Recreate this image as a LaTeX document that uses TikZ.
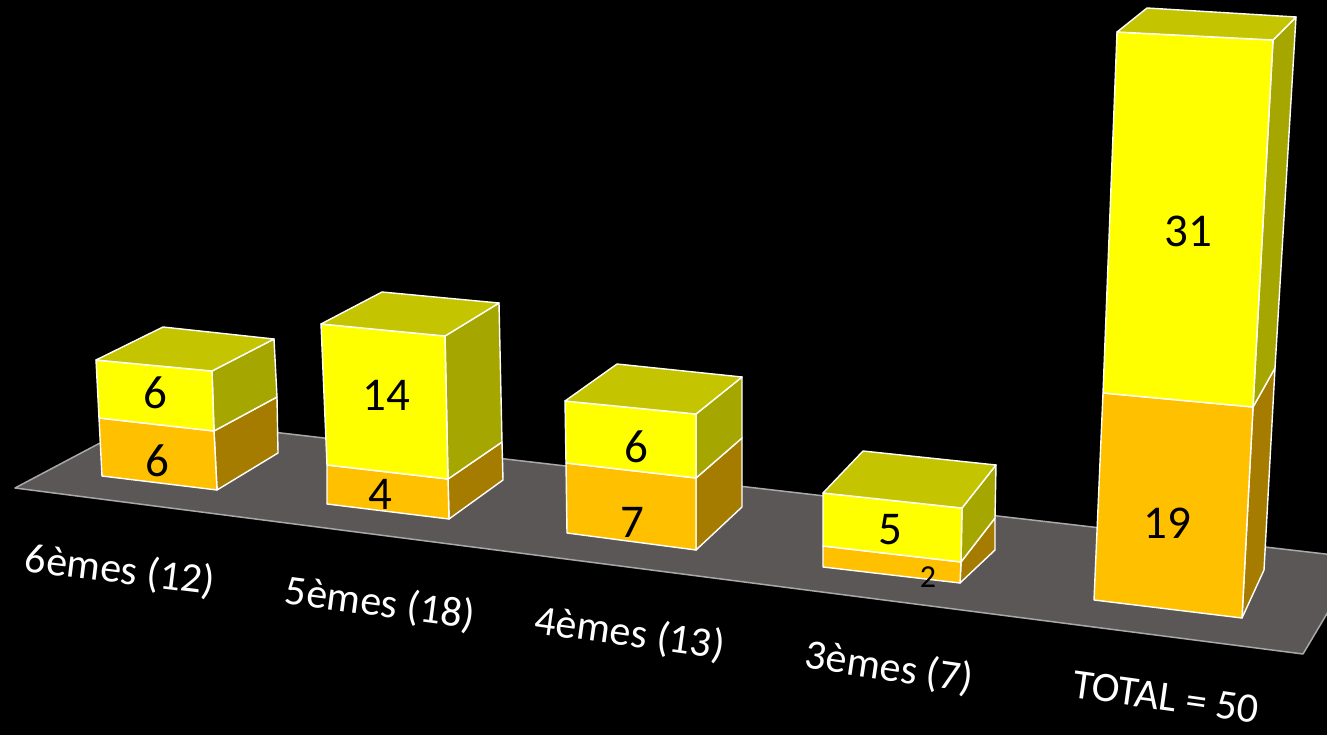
\documentclass[tikz,border=0pt]{standalone}
\usepackage{fontspec}
\setmainfont{Carlito}
\definecolor{ytop}{HTML}{C4C400}
\definecolor{yfront}{HTML}{FFFF00}
\definecolor{yside}{HTML}{A6A600}
\definecolor{ofront}{HTML}{FFC000}
\definecolor{oside}{HTML}{A67C00}
\definecolor{floorc}{HTML}{5B5757}
\definecolor{flooredge}{HTML}{A8A8A8}
\tikzset{
  face/.style={draw=white, line width=1.4pt, line join=round},
  lab/.style={text=white, font=\fontsize{42}{48}\selectfont, inner sep=0pt},
  num/.style={text=black, font=\fontsize{47}{52}\selectfont, inner sep=0pt},
  smallnum/.style={text=black, font=\fontsize{32}{36}\selectfont, inner sep=0pt}
}
\newcommand\stackbox[1]{%
  \path[face, fill=oside] (#1dr) -- (#1dbr) -- (#1bbr) -- (#1br) -- cycle;
  \path[face, fill=yside] (#1ftr) -- (#1btr) -- (#1dbr) -- (#1dr) -- cycle;
  \path[face, fill=ofront] (#1dl) -- (#1dr) -- (#1br) -- (#1bl) -- cycle;
  \path[face, fill=yfront] (#1ftl) -- (#1ftr) -- (#1dr) -- (#1dl) -- cycle;
  \path[face, fill=ytop] (#1ftl) -- (#1ftr) -- (#1btr) -- (#1btl) -- cycle;
}
\begin{document}
\begin{tikzpicture}[x=1pt,y=-1pt]
\fill[black] (0,0) rectangle (1327,735);
\useasboundingbox (0,0) rectangle (1327,735);
\clip (0,0) rectangle (1327,735);
% floor
\coordinate (fl) at (15,488);
\coordinate (fb) at (148,417.6);
\coordinate (fbr) at (1360,558);
\coordinate (ffr) at (1303,654);
\path[fill=floorc, draw=flooredge, line width=1.5pt, line join=round] (fl) -- (fb) -- (fbr) -- (ffr) -- cycle;
% box 1
\coordinate (aftl) at (96,360);  \coordinate (aftr) at (212,371);
\coordinate (abtl) at (163,327); \coordinate (abtr) at (274,339);
\coordinate (adl) at (99,418);   \coordinate (adr) at (214,431); \coordinate (adbr) at (277,397);
\coordinate (abl) at (102,476);  \coordinate (abr) at (217,490); \coordinate (abbr) at (278,453);
\stackbox{a}
% box 2
\coordinate (bftl) at (321,324); \coordinate (bftr) at (445,336);
\coordinate (bbtl) at (382,292); \coordinate (bbtr) at (499,303);
\coordinate (bdl) at (327,465);  \coordinate (bdr) at (448,479); \coordinate (bdbr) at (502,442);
\coordinate (bbl) at (327,504);  \coordinate (bbr) at (449,519); \coordinate (bbbr) at (503,480);
\stackbox{b}
% box 3
\coordinate (cftl) at (565,401); \coordinate (cftr) at (696,414);
\coordinate (cbtl) at (617,364); \coordinate (cbtr) at (742,377);
\coordinate (cdl) at (566,463);  \coordinate (cdr) at (696,478); \coordinate (cdbr) at (742,438);
\coordinate (cbl) at (567,533);  \coordinate (cbr) at (696,550); \coordinate (cbbr) at (742,507);
\stackbox{c}
% box 4
\coordinate (dftl) at (823,493); \coordinate (dftr) at (962,508);
\coordinate (dbtl) at (863,451); \coordinate (dbtr) at (996,465);
\coordinate (ddl) at (823,546);  \coordinate (ddr) at (961,562); \coordinate (ddbr) at (995,518);
\coordinate (dbl) at (823,567);  \coordinate (dbr) at (960,583); \coordinate (dbbr) at (995,550);
\stackbox{d}
% box 5
\coordinate (eftl) at (1117,32); \coordinate (eftr) at (1273,40);
\coordinate (ebtl) at (1147,8);  \coordinate (ebtr) at (1296,17);
\coordinate (edl) at (1103,393); \coordinate (edr) at (1253,407); \coordinate (edbr) at (1275,368);
\coordinate (ebl) at (1094,600); \coordinate (ebr) at (1242,618); \coordinate (ebbr) at (1264,570);
\stackbox{e}
% values
\node[num] (a1) at (155,393) {6};
\node[num] (a2) at (157,461) {6};
\node[num] (b1) at (386,395) {14};
\node[num] (b2) at (380,494) {4};
\node[num] (c1) at (636,447) {6};
\node[num] (c2) at (632,522) {7};
\node[num] (d1) at (890,530) {5};
\node[smallnum] (d2) at (928,577) {2};
\node[num] (e1) at (1188,231) {31};
\node[num] (e2) at (1167,523) {19};
% category labels
\node[lab, rotate=-7] (l1) at (120,571) {6èmes (12)};
\node[lab, rotate=-7.5] (l2) at (380,604) {5èmes (18)};
\node[lab, rotate=-8] (l3) at (630,634) {4èmes (13)};
\node[lab, rotate=-8.5] (l4) at (889,668) {3èmes (7)};
\node[lab, rotate=-8] (l5) at (1166,697) {TOTAL = 50};
\end{tikzpicture}
\end{document}
